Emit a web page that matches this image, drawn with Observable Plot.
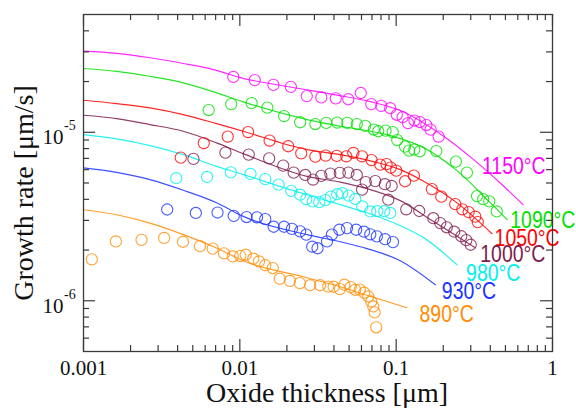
<!DOCTYPE html>
<html>
<head>
<meta charset="utf-8">
<script src="https://cdn.jsdelivr.net/npm/d3@7"></script>
<script src="https://cdn.jsdelivr.net/npm/@observablehq/plot@0.6"></script>
<style>
  html, body { margin: 0; padding: 0; background: #fff; }
  #chart svg { display: block; }
</style>
</head>
<body>
<div id="chart"></div>
<script>
// ---- Series names and colours ----
const temps = ["1150°C", "1090°C", "1050°C", "1000°C", "980°C", "930°C", "890°C"];
const tempColors = ["#ff00ff", "#00e000", "#ff0000", "#7d1c4e", "#00f0f0", "#1a33ff", "#ff8c00"];

// ---- Measured growth rate (circles): oxide thickness [µm] and rate [µm/s] ----
const obsX1150 = [0.00908,0.01245,0.0164,0.0212,0.0268,0.0332,0.0411,0.0494,0.0594,0.0693,0.0803,0.0916,0.101,0.110,0.119,0.131,0.142,0.156,0.166,0.187];
const obsY1150 = [2.13e-5,2.04e-5,1.91e-5,1.86e-5,1.64e-5,1.61e-5,1.59e-5,1.57e-5,1.71e-5,1.47e-5,1.435e-5,1.39e-5,1.27e-5,1.23e-5,1.134e-5,1.174e-5,1.15e-5,1.104e-5,1.037e-5,9.43e-6];

const obsX1090 = [0.00632,0.00881,0.0119,0.015,0.0192,0.0243,0.0304,0.0357,0.042,0.0487,0.056,0.0634,0.0719,0.0768,0.0855,0.0951,0.1016,0.114,0.121,0.1306,0.1416,0.1806,0.241,0.2835,0.329,0.36,0.394,0.44];
const obsY1090 = [1.355e-5,1.47e-5,1.49e-5,1.40e-5,1.248e-5,1.147e-5,1.119e-5,1.137e-5,1.142e-5,1.137e-5,1.119e-5,1.092e-5,1.038e-5,1.014e-5,1.023e-5,1.003e-5,8.99e-6,8.22e-6,7.78e-6,7.89e-6,7.71e-6,7.73e-6,6.70e-6,5.76e-6,4.18e-6,4.01e-6,3.89e-6,3.39e-6];

const obsX1050 = [0.00419,0.00588,0.00837,0.0113,0.0155,0.0204,0.0247,0.0304,0.0354,0.0417,0.048,0.0532,0.0605,0.0696,0.0791,0.0868,0.0924,0.1001,0.114,0.1298,0.1692,0.1944,0.2388,0.265,0.291,0.3207,0.3327];
const obsY1050 = [7.07e-6,8.63e-6,9.43e-6,1.003e-5,8.93e-6,8.26e-6,7.50e-6,7.17e-6,7.27e-6,7.24e-6,7.20e-6,7.54e-6,7.20e-6,6.84e-6,6.43e-6,6.47e-6,6.17e-6,5.92e-6,5.12e-6,5.53e-6,4.60e-6,4.15e-6,3.745e-6,3.49e-6,3.36e-6,3.155e-6,2.93e-6];

const obsX1000 = [0.00505,0.00809,0.0114,0.0154,0.01895,0.0221,0.0262,0.0294,0.0332,0.0379,0.0436,0.0495,0.056,0.0605,0.0639,0.0735,0.0846,0.0936,0.089,0.116,0.1405,0.1728,0.1915,0.2107,0.2353,0.261,0.281,0.300];
const obsY1000 = [6.95e-6,7.57e-6,7.37e-6,7.0e-6,6.34e-6,5.76e-6,5.58e-6,5.24e-6,5.51e-6,5.68e-6,5.74e-6,5.76e-6,5.58e-6,4.57e-6,5.06e-6,5.13e-6,4.92e-6,4.80e-6,3.98e-6,3.49e-6,3.41e-6,3.09e-6,2.89e-6,2.73e-6,2.57e-6,2.415e-6,2.29e-6,2.15e-6];

const obsX980 = [0.00392,0.00617,0.00875,0.0117,0.01454,0.01769,0.02133,0.0243,0.0266,0.0293,0.0322,0.0352,0.0382,0.042,0.0452,0.0497,0.0547,0.0607,0.0683,0.0757,0.0839,0.0917];
const obsY980 = [5.34e-6,5.43e-6,5.78e-6,5.66e-6,5.27e-6,4.89e-6,4.49e-6,4.26e-6,4.01e-6,3.89e-6,3.85e-6,3.955e-6,4.15e-6,4.29e-6,4.35e-6,4.21e-6,4.02e-6,3.63e-6,3.39e-6,3.40e-6,3.40e-6,3.32e-6];

const obsX930 = [0.00343,0.00523,0.0072,0.00914,0.01104,0.01288,0.01454,0.01646,0.01918,0.02154,0.0243,0.0266,0.02905,0.0314,0.0361,0.0388,0.0433,0.0485,0.0555,0.0623,0.0683,0.0752,0.0849,0.0954];
const obsY930 = [3.48e-6,3.32e-6,3.34e-6,3.19e-6,3.14e-6,3.13e-6,3.05e-6,2.75e-6,2.75e-6,2.67e-6,2.58e-6,2.47e-6,2.094e-6,2.05e-6,2.25e-6,2.47e-6,2.64e-6,2.70e-6,2.64e-6,2.57e-6,2.48e-6,2.41e-6,2.32e-6,2.23e-6];

const obsX890 = [0.00113,0.00161,0.00235,0.00328,0.00433,0.00556,0.00671,0.00792,0.00901,0.01006,0.0109,0.01218,0.01325,0.01454,0.01624,0.018,0.0209,0.0242,0.0282,0.0326,0.0368,0.0398,0.0436,0.0466,0.0512,0.0547,0.0585,0.0625,0.0663,0.0693,0.0714,0.0728,0.0746];
const obsY890 = [1.762e-6,2.25e-6,2.30e-6,2.36e-6,2.24e-6,2.11e-6,2.04e-6,1.913e-6,1.833e-6,1.843e-6,1.876e-6,1.777e-6,1.712e-6,1.625e-6,1.564e-6,1.351e-6,1.311e-6,1.274e-6,1.236e-6,1.236e-6,1.214e-6,1.211e-6,1.173e-6,1.245e-6,1.206e-6,1.162e-6,1.165e-6,1.116e-6,1.06e-6,9.90e-7,9.25e-7,8.54e-7,6.96e-7];

// ---- Model curves (lines) ----
const fitX1150 = [0.001,0.00163,0.00266,0.00435,0.0071,0.01006,0.021,0.042,0.0683,0.1062,0.201,0.313,0.463,0.648];
const fitY1150 = [3.03e-5,2.94e-5,2.77e-5,2.56e-5,2.33e-5,2.11e-5,1.856e-5,1.66e-5,1.52e-5,1.346e-5,9.47e-6,6.88e-6,5.0e-6,3.72e-6];

const fitX1090 = [0.001,0.00163,0.00266,0.00435,0.0071,0.01051,0.0269,0.0439,0.0917,0.1497,0.245,0.40,0.512];
const fitY1090 = [2.39e-5,2.30e-5,2.15e-5,1.966e-5,1.714e-5,1.516e-5,1.19e-5,1.086e-5,9.56e-6,8.11e-6,5.92e-6,3.82e-6,3.03e-6];

const fitX1050 = [0.001,0.00163,0.00266,0.00435,0.0071,0.01051,0.0269,0.0439,0.0714,0.1062,0.1497,0.245,0.41];
const fitY1050 = [1.549e-5,1.48e-5,1.396e-5,1.274e-5,1.126e-5,1.014e-5,7.89e-6,7.37e-6,6.70e-6,6.0e-6,5.12e-6,3.81e-6,2.50e-6];

const fitX1000 = [0.001,0.00163,0.00266,0.00435,0.0071,0.01051,0.0269,0.0439,0.065,0.1062,0.1735,0.3207];
const fitY1000 = [1.262e-5,1.206e-5,1.111e-5,1.014e-5,8.65e-6,7.47e-6,5.48e-6,5.06e-6,4.63e-6,3.93e-6,2.95e-6,2.065e-6];

const fitX980 = [0.001,0.00163,0.00266,0.00435,0.0071,0.01051,0.0243,0.0439,0.065,0.1062,0.1497,0.245];
const fitY980 = [9.69e-6,9.14e-6,8.34e-6,7.37e-6,6.28e-6,5.61e-6,4.38e-6,3.72e-6,3.33e-6,2.79e-6,2.37e-6,1.636e-6];

const fitX930 = [0.001,0.00163,0.00266,0.00435,0.0071,0.01051,0.0269,0.0439,0.065,0.1062,0.178];
const fitY930 = [6.14e-6,5.78e-6,5.24e-6,4.53e-6,3.82e-6,3.17e-6,2.47e-6,2.24e-6,2.04e-6,1.729e-6,1.245e-6];

const fitX890 = [0.001,0.00163,0.00266,0.00435,0.0071,0.01051,0.0269,0.0439,0.065,0.1172];
const fitY890 = [3.47e-6,3.24e-6,2.89e-6,2.47e-6,2.056e-6,1.729e-6,1.37e-6,1.211e-6,1.078e-6,9.09e-7];

// ---- Series label anchors (data coordinates) ----
const labelX = [0.354, 0.537, 0.426, 0.345, 0.28, 0.196, 0.141];
const labelY = [6.41e-6, 3.03e-6, 2.38e-6, 1.91e-6, 1.467e-6, 1.147e-6, 8.37e-7];

// ---- Axis ticks and tick labels ----
const xMajor = [0.001, 0.01, 0.1, 1];
const xTickLabels = ["0.001", "0.01", "0.1", "1"];
const xMinor = [0.002,0.003,0.004,0.005,0.006,0.007,0.008,0.009,
                0.02,0.03,0.04,0.05,0.06,0.07,0.08,0.09,
                0.2,0.3,0.4,0.5,0.6,0.7,0.8,0.9];
const yMajor = [1e-6, 1e-5];
const yTickExp = ["-6", "-5"];
const yMinor = [6e-7,7e-7,8e-7,9e-7,2e-6,3e-6,4e-6,5e-6,6e-6,7e-6,8e-6,9e-6,2e-5,3e-5,4e-5];

// ---- Build tables ----
const obsXs = [obsX1150, obsX1090, obsX1050, obsX1000, obsX980, obsX930, obsX890];
const obsYs = [obsY1150, obsY1090, obsY1050, obsY1000, obsY980, obsY930, obsY890];
const fitXs = [fitX1150, fitX1090, fitX1050, fitX1000, fitX980, fitX930, fitX890];
const fitYs = [fitY1150, fitY1090, fitY1050, fitY1000, fitY980, fitY930, fitY890];

const obs = temps.flatMap((t, k) => obsXs[k].map((x, i) => ({t, x, y: obsYs[k][i]})));
const fit = temps.flatMap((t, k) => fitXs[k].map((x, i) => ({t, x, y: fitYs[k][i]})));
const labels = temps.map((t, k) => ({t, x: labelX[k], y: labelY[k]}));

const W = 576, H = 408;
const mL = 83, mR = 24, mT = 14, mB = 57;
const FW = W - mL - mR, FH = H - mT - mB;
const serif = "Liberation Serif, Times New Roman, Times, serif";
const sans = "Liberation Sans, Arial, Helvetica, sans-serif";
const axisColor = "#3a3a3a";

const chart = Plot.plot({
  width: W, height: H,
  marginLeft: mL, marginRight: mR, marginTop: mT, marginBottom: mB,
  x: {type: "log", domain: [0.001, 1], axis: null},
  y: {type: "log", domain: [5e-7, 5e-5], axis: null},
  color: {domain: temps, range: tempColors},
  style: {background: "#fff"},
  marks: [
    // model curves
    Plot.line(fit, {x: "x", y: "y", z: "t", stroke: "t", strokeWidth: 1.2, strokeOpacity: 0.85, curve: "monotone-x"}),
    // measured points
    Plot.dot(obs, {x: "x", y: "y", r: 5.6, stroke: "t", strokeWidth: 1.1, strokeOpacity: 0.8, fill: "none"}),
    // series labels
    Plot.text(labels, {x: "x", y: "y", text: "t", fill: "t", textAnchor: "start", dy: 1, fontSize: 24, fontFamily: sans}),
    // frame
    Plot.frame({stroke: axisColor, strokeWidth: 1.3}),
    // inward ticks: bottom / top
    Plot.ruleX(xMajor, {x: d => d, insetTop: FH - 12, stroke: axisColor, strokeWidth: 1.2}),
    Plot.ruleX(xMajor, {x: d => d, insetBottom: FH - 12, stroke: axisColor, strokeWidth: 1.2}),
    Plot.ruleX(xMinor, {x: d => d, insetTop: FH - 6, stroke: axisColor, strokeWidth: 1.2}),
    Plot.ruleX(xMinor, {x: d => d, insetBottom: FH - 6, stroke: axisColor, strokeWidth: 1.2}),
    // inward ticks: left / right
    Plot.ruleY(yMajor, {y: d => d, insetRight: FW - 12, stroke: axisColor, strokeWidth: 1.2}),
    Plot.ruleY(yMajor, {y: d => d, insetLeft: FW - 12, stroke: axisColor, strokeWidth: 1.2}),
    Plot.ruleY(yMinor, {y: d => d, insetRight: FW - 6, stroke: axisColor, strokeWidth: 1.2}),
    Plot.ruleY(yMinor, {y: d => d, insetLeft: FW - 6, stroke: axisColor, strokeWidth: 1.2}),
    // x tick labels
    Plot.text(xMajor, {x: d => d, frameAnchor: "bottom", text: (d, i) => xTickLabels[i], textAnchor: "middle", lineAnchor: "top", dy: 9, fontSize: 21, fontFamily: serif, fill: "#111"}),
    // y tick labels 10^n
    Plot.text(yMajor, {y: d => d, frameAnchor: "left", text: () => "10", textAnchor: "end", lineAnchor: "middle", dx: -20, dy: 5, fontSize: 21, fontFamily: serif, fill: "#111"}),
    Plot.text(yMajor, {y: d => d, frameAnchor: "left", text: (d, i) => yTickExp[i], textAnchor: "start", lineAnchor: "middle", dx: -19.5, dy: -6.5, fontSize: 14, fontFamily: serif, fill: "#111"}),
    // axis titles
    Plot.text(["Oxide thickness [μm]"], {frameAnchor: "bottom", text: d => d, textAnchor: "middle", lineAnchor: "top", dx: 9, dy: 31, fontSize: 28, fontFamily: serif, fill: "#111"}),
    Plot.text(["Growth rate [μm/s]"], {frameAnchor: "left", text: d => d, rotate: -90, textAnchor: "middle", lineAnchor: "middle", dx: -59, dy: 10, fontSize: 28, fontFamily: serif, fill: "#111"})
  ]
});

document.getElementById("chart").appendChild(chart);

// The series labels in the reference use a condensed sans face: compress them horizontally.
const labelGroup = chart.querySelectorAll('g[aria-label="text"]')[0];
if (labelGroup) {
  labelGroup.querySelectorAll("text").forEach((t) => {
    const L = t.getComputedTextLength();
    if (L > 0) {
      t.setAttribute("textLength", (L * 0.81).toFixed(1));
      t.setAttribute("lengthAdjust", "spacingAndGlyphs");
    }
  });
}
</script>
</body>
</html>
